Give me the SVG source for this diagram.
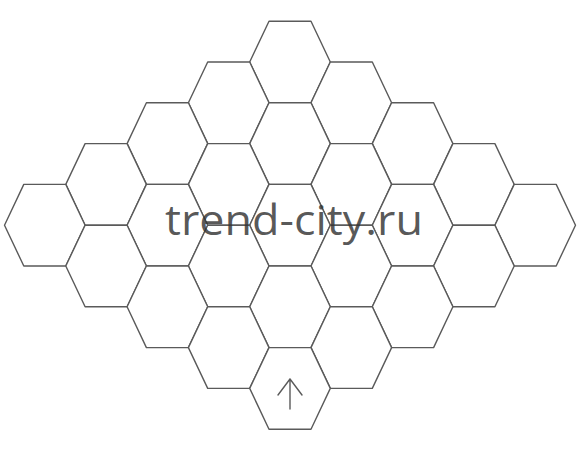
<svg xmlns="http://www.w3.org/2000/svg" xmlns:xlink="http://www.w3.org/1999/xlink" width="581" height="450" viewBox="0 0 581 450">
<style>
.hex{fill:#fff;stroke:#5a5a5a;stroke-width:1.4;stroke-linejoin:round}
.arr{fill:none;stroke:#5a5a5a;stroke-width:1.4;stroke-linecap:round;stroke-linejoin:round}
.wm{font-family:"Open Sans","Noto Sans",sans-serif;font-size:42px;fill:#333;fill-opacity:0.82}
</style>
<defs>
<path id="hex" d="M-40.3,0 L-21,-40.8 L21,-40.8 L40.3,0 L21,40.8 L-21,40.8 Z"/>
</defs>
<rect width="581" height="450" fill="#fff"/>
<g id="nodes">
<g id="h0"><use xlink:href="#hex" class="hex" x="290" y="62"/></g>
<g id="h1"><use xlink:href="#hex" class="hex" x="228.7" y="102.8"/></g>
<g id="h2"><use xlink:href="#hex" class="hex" x="351.3" y="102.8"/></g>
<g id="h3"><use xlink:href="#hex" class="hex" x="167.4" y="143.6"/></g>
<g id="h4"><use xlink:href="#hex" class="hex" x="290" y="143.6"/></g>
<g id="h5"><use xlink:href="#hex" class="hex" x="412.6" y="143.6"/></g>
<g id="h6"><use xlink:href="#hex" class="hex" x="106.1" y="184.4"/></g>
<g id="h7"><use xlink:href="#hex" class="hex" x="228.7" y="184.4"/></g>
<g id="h8"><use xlink:href="#hex" class="hex" x="351.3" y="184.4"/></g>
<g id="h9"><use xlink:href="#hex" class="hex" x="473.9" y="184.4"/></g>
<g id="h10"><use xlink:href="#hex" class="hex" x="44.8" y="225.2"/></g>
<g id="h11"><use xlink:href="#hex" class="hex" x="167.4" y="225.2"/></g>
<g id="h12"><use xlink:href="#hex" class="hex" x="290" y="225.2"/></g>
<g id="h13"><use xlink:href="#hex" class="hex" x="412.6" y="225.2"/></g>
<g id="h14"><use xlink:href="#hex" class="hex" x="535.2" y="225.2"/></g>
<g id="h15"><use xlink:href="#hex" class="hex" x="106.1" y="266"/></g>
<g id="h16"><use xlink:href="#hex" class="hex" x="228.7" y="266"/></g>
<g id="h17"><use xlink:href="#hex" class="hex" x="351.3" y="266"/></g>
<g id="h18"><use xlink:href="#hex" class="hex" x="473.9" y="266"/></g>
<g id="h19"><use xlink:href="#hex" class="hex" x="167.4" y="306.8"/></g>
<g id="h20"><use xlink:href="#hex" class="hex" x="290" y="306.8"/></g>
<g id="h21"><use xlink:href="#hex" class="hex" x="412.6" y="306.8"/></g>
<g id="h22"><use xlink:href="#hex" class="hex" x="228.7" y="347.6"/></g>
<g id="h23"><use xlink:href="#hex" class="hex" x="351.3" y="347.6"/></g>
<g id="h24"><use xlink:href="#hex" class="hex" x="290" y="388.4"/>
<path class="arr" d="M290,409 L290,379 M278,395 L290,379 L302,395"/></g>
</g>
<g id="connectors"></g>
<text class="wm" x="165" y="235" textLength="258" lengthAdjust="spacingAndGlyphs">trend-city.ru</text>
</svg>
